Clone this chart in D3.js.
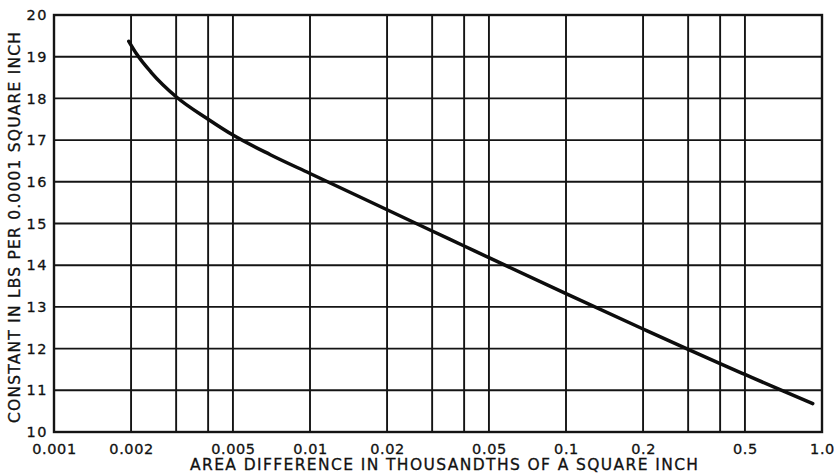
<!DOCTYPE html>
<html>
<head>
<meta charset="utf-8">
<script src="https://cdn.jsdelivr.net/npm/d3@7"></script>
<style>
  html, body { margin: 0; padding: 0; background: #fff; }
  svg { display: block; }
  text { font-family: "DejaVu Sans", "Noto Sans", sans-serif; fill: #111; stroke: #111; stroke-width: 0.3px; }
</style>
</head>
<body>
<svg id="chart" width="834" height="473"></svg>
<script>
// Area difference (thousandths of a square inch) vs. constant (lbs per 0.0001 sq in)
const area = [0.00196, 0.0021, 0.0024, 0.003, 0.004, 0.005, 0.007, 0.01, 0.02, 0.03, 0.04, 0.05, 0.1, 0.2, 0.3, 0.4, 0.5, 0.7, 0.92];
const constant = [19.37, 19.07, 18.62, 18.04, 17.50, 17.12, 16.65, 16.20, 15.33, 14.82, 14.46, 14.18, 13.32, 12.47, 11.98, 11.64, 11.38, 10.99, 10.68];

const xTickValues = [0.001, 0.002, 0.005, 0.01, 0.02, 0.05, 0.1, 0.2, 0.5, 1.0];
const xTickLabels = ["0.001", "0.002", "0.005", "0.01", "0.02", "0.05", "0.1", "0.2", "0.5", "1.0"];
const xGridValues = [0.002, 0.003, 0.004, 0.005, 0.01, 0.02, 0.03, 0.04, 0.05, 0.1, 0.2, 0.3, 0.4, 0.5];
const yTickValues = [10, 11, 12, 13, 14, 15, 16, 17, 18, 19, 20];

const xTitle = "AREA DIFFERENCE IN THOUSANDTHS OF A SQUARE INCH";
const yTitle = "CONSTANT IN LBS PER 0.0001 SQUARE INCH";

const svg = d3.select("#chart");
const plot = { left: 54, right: 822, top: 15, bottom: 432 };

const x = d3.scaleLog().domain([0.001, 1]).range([plot.left, plot.right]);
const y = d3.scaleLinear().domain([10, 20]).range([plot.bottom, plot.top]);

const ink = "#141414";

// vertical grid
svg.append("g")
  .selectAll("line")
  .data(xGridValues)
  .join("line")
  .attr("x1", d => x(d)).attr("x2", d => x(d))
  .attr("y1", plot.top).attr("y2", plot.bottom)
  .attr("stroke", ink).attr("stroke-width", 1.9);

// horizontal grid
svg.append("g")
  .selectAll("line")
  .data(yTickValues.slice(1, -1))
  .join("line")
  .attr("x1", plot.left).attr("x2", plot.right)
  .attr("y1", d => y(d)).attr("y2", d => y(d))
  .attr("stroke", ink).attr("stroke-width", 1.9);

// frame
svg.append("rect")
  .attr("x", plot.left).attr("y", plot.top)
  .attr("width", plot.right - plot.left).attr("height", plot.bottom - plot.top)
  .attr("fill", "none").attr("stroke", ink).attr("stroke-width", 2.4);

// x tick labels
const xAxis = d3.axisBottom(x)
  .tickValues(xTickValues)
  .tickSize(0)
  .tickPadding(0)
  .tickFormat((d, i) => xTickLabels[i]);
const gx = svg.append("g").attr("transform", `translate(0,${plot.bottom})`).call(xAxis);
gx.select(".domain").remove();
gx.selectAll("text")
  .attr("y", 22)
  .attr("dy", 0)
  .style("font-size", "14.5px")
  .style("letter-spacing", "0.6px")
  .style("font-family", '"DejaVu Sans", sans-serif')
  .attr("fill", ink);

// y tick labels
const yAxis = d3.axisLeft(y)
  .tickValues(yTickValues)
  .tickSize(0)
  .tickPadding(0)
  .tickFormat(d3.format("d"));
const gy = svg.append("g").attr("transform", `translate(${plot.left - 6},0)`).call(yAxis);
gy.select(".domain").remove();
gy.selectAll("text")
  .style("font-size", "14.5px")
  .style("letter-spacing", "1.5px")
  .style("font-family", '"DejaVu Sans", sans-serif')
  .attr("fill", ink);

// axis titles
svg.append("text")
  .attr("x", 190).attr("y", 470)
  .attr("textLength", 508).attr("lengthAdjust", "spacing")
  .style("font-size", "15.5px")
  .text(xTitle);

svg.append("text")
  .attr("transform", "translate(20,423) rotate(-90)")
  .attr("x", 0).attr("y", 0)
  .attr("textLength", 391).attr("lengthAdjust", "spacing")
  .style("font-size", "15.5px")
  .text(yTitle);

// curve
const line = d3.line()
  .x(d => x(d[0]))
  .y(d => y(d[1]))
  .curve(d3.curveMonotoneX);

svg.append("path")
  .datum(area.map((a, i) => [a, constant[i]]))
  .attr("d", line)
  .attr("fill", "none")
  .attr("stroke", "#0d0d0d")
  .attr("stroke-width", 3.5)
  .attr("stroke-linecap", "round");
</script>
</body>
</html>
